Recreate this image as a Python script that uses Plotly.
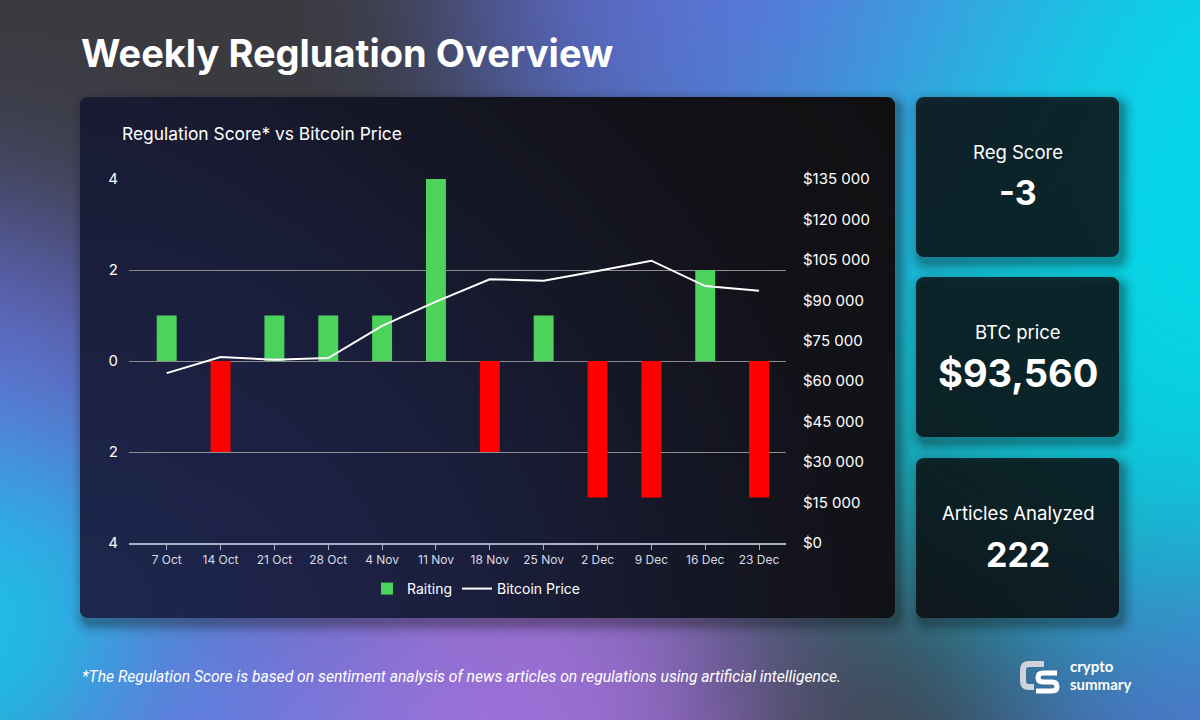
import numpy as np, zlib, struct, base64
import plotly.graph_objects as go

# ---------------- data ----------------
weeks = ["7 Oct", "14 Oct", "21 Oct", "28 Oct", "4 Nov", "11 Nov",
         "18 Nov", "25 Nov", "2 Dec", "9 Dec", "16 Dec", "23 Dec"]
scores = [1, -2, 1, 1, 1, 4, -2, 1, -3, -3, 2, -3]
btc_price = [63000, 69000, 68000, 68600, 80500, 89500,
             97800, 97300, 100900, 104700, 95300, 93560]
score_ticks = [-4, -2, 0, 2, 4]
score_ticktext = ["4", "2", "0", "2", "4"]
price_ticks = [0, 15000, 30000, 45000, 60000, 75000, 90000, 105000, 120000, 135000]
price_ticktext = ["$0", "$15 000", "$30 000", "$45 000", "$60 000", "$75 000",
                  "$90 000", "$105 000", "$120 000", "$135 000"]
cards = [("Reg Score", "-3"), ("BTC price", "$93,560"), ("Articles Analyzed", "222")]

W, H = 1200, 720

# ---------------- background image ----------------
yy, xx = np.mgrid[0:H, 0:W].astype(np.float32)
xx += 0.5; yy += 0.5

def blob(cx, cy, s, a):
    return a * np.exp(-((xx - cx) ** 2 + (yy - cy) ** 2) / (2 * s * s))

base = np.array([56, 56, 60], np.float32)
blobs = [
    ((0, 232, 250), blob(1270, 170, 250, 10.0)),
    ((0, 229, 248), blob(-40, 610, 105, 7.0)),
    ((112, 122, 250), blob(-30, 430, 140, 4.0)),
    ((108, 112, 238), blob(790, -40, 165, 5.0)),
    ((70, 170, 240), blob(1000, -20, 100, 2.0)),
    ((172, 120, 238), blob(510, 775, 150, 7.0)),
    ((100, 135, 248), blob(200, 760, 130, 5.0)),
    ((95, 112, 225), blob(1260, 770, 150, 4.0)),
    ((58, 58, 62), blob(120, 60, 170, 2.5)),
    ((58, 58, 62), blob(850, 760, 120, 2.5)),
]
num = np.zeros((H, W, 3), np.float32) + base
den = np.ones((H, W), np.float32)
for c, w in blobs:
    num += w[..., None] * np.array(c, np.float32)
    den += w
img = num / den[..., None]

def rrect_d(x0, y0, x1, y1, r):
    cx = (x0 + x1) / 2; cy = (y0 + y1) / 2
    hx = (x1 - x0) / 2; hy = (y1 - y0) / 2
    qx = np.abs(xx - cx) - hx + r
    qy = np.abs(yy - cy) - hy + r
    return (np.hypot(np.maximum(qx, 0), np.maximum(qy, 0))
            + np.minimum(np.maximum(qx, qy), 0) - r)

panel = (80, 97, 895, 618)
card_boxes = [(916, 97, 1119, 257), (916, 277, 1119, 437), (916, 458, 1119, 618)]

# shadows
for (x0, y0, x1, y1) in [panel] + card_boxes:
    d = rrect_d(x0 + 4, y0 + 6, x1 + 4, y1 + 6, 8)
    sa = 0.35 * np.clip(1 - d / 16, 0, 1) ** 2
    img = img * (1 - sa[..., None]) + np.array([20, 20, 24], np.float32) * sa[..., None]

# chart panel
pnum = np.zeros((H, W, 3), np.float32) + np.array([16, 16, 18], np.float32)
pden = np.ones((H, W), np.float32)
for c, w in [((36, 44, 100), blob(110, 660, 300, 2.2)),
             ((22, 54, 80), blob(60, 620, 90, 1.2)),
             ((30, 34, 70), blob(60, 100, 160, 0.6))]:
    pnum += w[..., None] * np.array(c, np.float32)
    pden += w
pcol = pnum / pden[..., None]
m = np.clip(0.5 - rrect_d(*panel, 8), 0, 1)[..., None]
img = img * (1 - m) + pcol * m

# cards: dark translucent over background
dark = np.array([9, 11, 14], np.float32)
for box in card_boxes:
    m = np.clip(0.5 - rrect_d(*box, 8), 0, 1)[..., None]
    ccol = img * 0.2 + dark * 0.8
    img = img * (1 - m) + ccol * m

arr = np.clip(img + 0.5, 0, 255).astype(np.uint8)
a16 = arr.astype(np.int16)
sub = a16.copy()
sub[:, 1:, :] = (a16[:, 1:, :] - a16[:, :-1, :]) & 0xFF
rows = np.concatenate([np.ones((H, 1), np.uint8), sub.astype(np.uint8).reshape(H, W * 3)], axis=1)
raw = rows.tobytes()

def chunk(t, d):
    c = struct.pack(">I", len(d)) + t + d
    return c + struct.pack(">I", zlib.crc32(t + d) & 0xFFFFFFFF)

png = (b"\x89PNG\r\n\x1a\n" + chunk(b"IHDR", struct.pack(">IIBBBBB", W, H, 8, 2, 0, 0, 0))
       + chunk(b"IDAT", zlib.compress(raw, 9)) + chunk(b"IEND", b""))
bg_uri = "data:image/png;base64," + base64.b64encode(png).decode()

# ---------------- figure ----------------
def px(x):
    return x / W

def py(y):
    return 1 - y / H

FONT = "Inter"
bar_colors = ["#4cd35c" if s >= 0 else "#ff0000" for s in scores]

fig = go.Figure()
fig.add_trace(go.Bar(x=weeks, y=scores, name="Raiting", marker=dict(color=bar_colors, line_width=0),
                     width=0.37, yaxis="y", hoverinfo="skip"))
fig.add_trace(go.Scatter(x=weeks, y=btc_price, name="Bitcoin Price", mode="lines",
                         line=dict(color="white", width=2), yaxis="y2", hoverinfo="skip"))

fig.update_layout(
    width=W, height=H, autosize=False,
    margin=dict(l=0, r=0, t=0, b=0, pad=0, autoexpand=False),
    paper_bgcolor="#3a3a3e", plot_bgcolor="rgba(0,0,0,0)",
    font=dict(family=FONT, color="white"),
    showlegend=True,
    legend=dict(orientation="h", x=px(476), y=py(589), xanchor="center", yanchor="middle",
                font=dict(size=14, color="white", family=FONT), bgcolor="rgba(0,0,0,0)",
                itemwidth=30, traceorder="normal"),
    bargap=0.6,
    xaxis=dict(domain=[px(129), px(786)], range=[-0.7, 11.5], type="category",
               showgrid=False, showline=True, linecolor="#a9aec4", linewidth=2,
               ticks="outside", ticklen=5, tickcolor="#a9aec4", tickwidth=1,
               tickfont=dict(size=12, color="#d8dbe6", family=FONT), fixedrange=True,
               zeroline=False, automargin=False),
    yaxis=dict(domain=[py(543), py(179)], range=[-4, 4], tickvals=score_ticks,
               ticktext=score_ticktext, showgrid=True, gridcolor="#8c8c90", gridwidth=1,
               zeroline=False, showline=False, ticks="",
               tickfont=dict(size=15, color="white", family=FONT), ticklabelstandoff=10,
               fixedrange=True, automargin=False),
    yaxis2=dict(overlaying="y", side="right", anchor="x", range=[0, 135000],
                tickvals=price_ticks, ticktext=price_ticktext, showgrid=False,
                zeroline=False, showline=False, ticks="",
                tickfont=dict(size=15, color="white", family=FONT), ticklabelstandoff=16,
                fixedrange=True, automargin=False),
    images=[dict(source=bg_uri, xref="paper", yref="paper", x=0, y=1, sizex=1, sizey=1,
                 xanchor="left", yanchor="top", sizing="stretch", layer="below")],
)

ann = []
ann.append(dict(text="<b>Weekly Regluation Overview</b>", x=px(79), y=py(53), xanchor="left",
                yanchor="middle", font=dict(size=38, color="white", family=FONT)))
ann.append(dict(text="Regulation Score* vs Bitcoin Price", x=px(120), y=py(133), xanchor="left",
                yanchor="middle", font=dict(size=17.4, color="white", family=FONT)))
for (label, value), (x0, y0, x1, y1) in zip(cards, card_boxes):
    cx = (x0 + x1) / 2
    ann.append(dict(text=label, x=px(cx), y=py(y0 + 55), xanchor="center", yanchor="middle",
                    font=dict(size=18.5, color="white", family=FONT)))
    vsize = 38 if value.startswith("$") else 34
    ann.append(dict(text="<b>" + value + "</b>", x=px(cx), y=py(y0 + 96), xanchor="center",
                    yanchor="middle", font=dict(size=vsize, color="white", family=FONT)))
ann.append(dict(text="<i>*The Regulation Score is based on sentiment analysis of news articles on regulations using artificial intelligence.</i>",
                x=px(80), y=py(676), xanchor="left", yanchor="middle",
                font=dict(size=15.7, color="white", family="Roboto")))
ann.append(dict(text="<b>crypto</b>", x=px(1068), y=py(666), xanchor="left", yanchor="middle",
                font=dict(size=15, color="white", family="Lato")))
ann.append(dict(text="<b>summary</b>", x=px(1068), y=py(683.5), xanchor="left", yanchor="middle",
                font=dict(size=15, color="white", family="Lato")))
for a in ann:
    a.update(xref="paper", yref="paper", showarrow=False)
fig.update_layout(annotations=ann)

shapes = [
    # "C" of the logo
    dict(type="path", xref="paper", yref="paper",
         path=f"M {px(1044)} {py(664)} L {px(1029)} {py(664)} Q {px(1023)} {py(664)} {px(1023)} {py(670)} "
              f"L {px(1023)} {py(681)} Q {px(1023)} {py(687)} {px(1029)} {py(687)} L {px(1034)} {py(687)}",
         line=dict(color="#cfd2d8", width=6)),
    # "S" of the logo
    dict(type="path", xref="paper", yref="paper",
         path=f"M {px(1057)} {py(673)} L {px(1043)} {py(673)} Q {px(1038)} {py(673)} {px(1038)} {py(677.5)} "
              f"Q {px(1038)} {py(682)} {px(1043)} {py(682)} L {px(1052)} {py(682)} "
              f"Q {px(1057)} {py(682)} {px(1057)} {py(686.5)} Q {px(1057)} {py(691)} {px(1052)} {py(691)} L {px(1036)} {py(691)}",
         line=dict(color="white", width=5)),
]
fig.update_layout(shapes=shapes)

fig.write_html("out.html", config={"displayModeBar": False})
